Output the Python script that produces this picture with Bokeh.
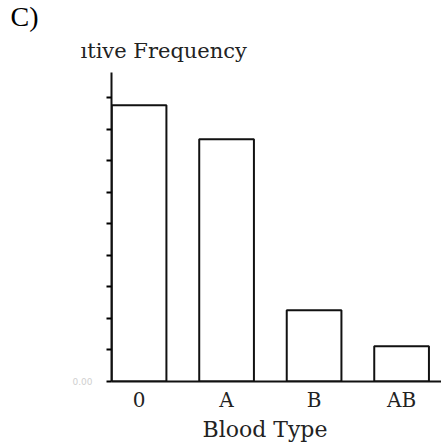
from bokeh.plotting import figure
from bokeh.models import Range1d, FixedTicker, Title
from bokeh.embed import file_html
from bokeh.resources import INLINE

blood_types = ["0", "A", "B", "AB"]
rel_freq = [0.438, 0.384, 0.113, 0.056]
y_ticks = [0.0, 0.05, 0.10, 0.15, 0.20, 0.25, 0.30, 0.35, 0.40, 0.45]
y_tick_labels = ["0.00", "", "", "", "", "", "", "", "", ""]
panel_tag = "C)"
y_title = "ıtive Frequency"
x_title = "Blood Type"

positions = list(range(len(blood_types)))

p = figure(width=441, height=447, output_backend="svg", toolbar_location=None,
           x_range=Range1d(-0.315, 3.456), y_range=Range1d(0, 0.49),
           min_border_left=111, min_border_top=72, min_border_bottom=66,
           min_border_right=0)
p.background_fill_color = "white"
p.border_fill_color = "white"
p.outline_line_color = None
p.grid.visible = False

p.vbar(x=positions, top=rel_freq, width=0.625, fill_color="white",
       line_color="#111111", line_width=2)

# y axis
p.yaxis.ticker = FixedTicker(ticks=y_ticks)
p.yaxis.major_label_overrides = {t: s for t, s in zip(y_ticks, y_tick_labels)}
p.yaxis.major_label_text_font = "DejaVu Sans"
p.yaxis.major_label_text_font_size = "9px"
p.yaxis.major_label_text_color = "#d0d0d0"
p.yaxis.major_label_standoff = 14
p.yaxis.major_tick_in = 0
p.yaxis.major_tick_out = 5
p.yaxis.major_tick_line_width = 2
p.yaxis.minor_tick_line_color = None
p.yaxis.axis_line_width = 2
p.yaxis.axis_line_color = "#111111"

# x axis
p.xaxis.ticker = FixedTicker(ticks=positions)
p.xaxis.major_label_overrides = {i: t for i, t in zip(positions, blood_types)}
p.xaxis.major_tick_line_color = None
p.xaxis.minor_tick_line_color = None
p.xaxis.axis_line_width = 2
p.xaxis.axis_line_color = "#111111"
p.xaxis.major_label_text_font = "DejaVu Serif"
p.xaxis.major_label_text_font_size = "20px"
p.xaxis.major_label_text_color = "#222222"
p.xaxis.major_label_standoff = 0

# x title below the axis, shifted left like the reference
p.add_layout(Title(text=x_title, align="left", offset=91, standoff=1,
                   text_font="DejaVu Serif", text_font_size="22px",
                   text_font_style="normal", text_color="#222222"), "below")

# y title above the frame (first added sits nearest the frame)
p.add_layout(Title(text=y_title, align="left", offset=-31, standoff=19,
                   text_font="DejaVu Serif", text_font_size="21px",
                   text_font_style="normal", text_color="#222222"), "above")
# panel tag above that
p.add_layout(Title(text=panel_tag, align="left", offset=-101, standoff=-9,
                   text_font="Liberation Serif", text_font_size="28px",
                   text_font_style="normal", text_color="black"), "above")

open("out.html", "w").write(file_html(p, INLINE))
